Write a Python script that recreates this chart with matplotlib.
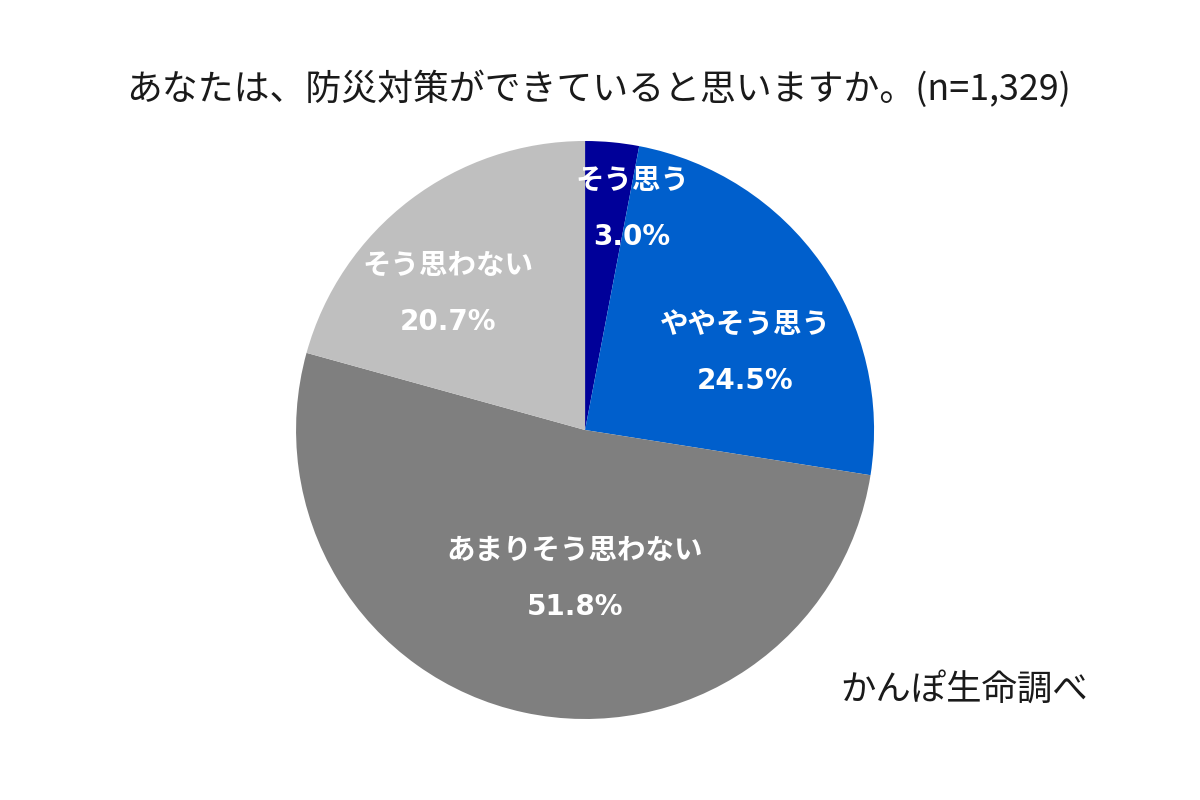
import matplotlib.pyplot as plt

plt.rcParams['font.family'] = ['Noto Sans CJK JP', 'DejaVu Sans']

# data
labels = ['そう思う', 'ややそう思う', 'あまりそう思わない', 'そう思わない']
values = [3.0, 24.5, 51.8, 20.7]
colors = ['#000099', '#005FCC', '#7F7F7F', '#BFBFBF']
# label anchor points (relative to unit circle)
label_x = [0.163, 0.554, -0.035, -0.474]
label_y = [0.768, 0.270, -0.512, 0.474]

title = 'あなたは、防災対策ができていると思いますか。(n=1,329)'
source = 'かんぽ生命調べ'

fig = plt.figure(figsize=(12, 8), dpi=100)
fig.patch.set_facecolor('white')

ax = fig.add_axes([0.2467, 0.10125, 0.4817, 0.7225])
ax.pie(values, colors=colors, startangle=90, counterclock=False,
       radius=1.0, wedgeprops=dict(linewidth=0))
ax.set_xlim(-1, 1)
ax.set_ylim(-1, 1)
ax.set_aspect('equal')
ax.axis('off')

for lab, v, x, y in zip(labels, values, label_x, label_y):
    ax.text(x, y + 0.095, lab, ha='center', va='center', color='white',
            fontsize=20.5, fontweight='bold')
    ax.text(x, y - 0.1, f'{v:.1f}%', ha='center', va='center', color='white',
            fontsize=20, fontweight='bold', family=['DejaVu Sans'])

fig.text(0.4985, 0.888, title, ha='center', va='center', fontsize=25.8, color='#1a1a1a')
fig.text(0.9067, 0.1375, source, ha='right', va='center', fontsize=25.5, color='#1a1a1a')

plt.savefig('out.png', dpi=100)
